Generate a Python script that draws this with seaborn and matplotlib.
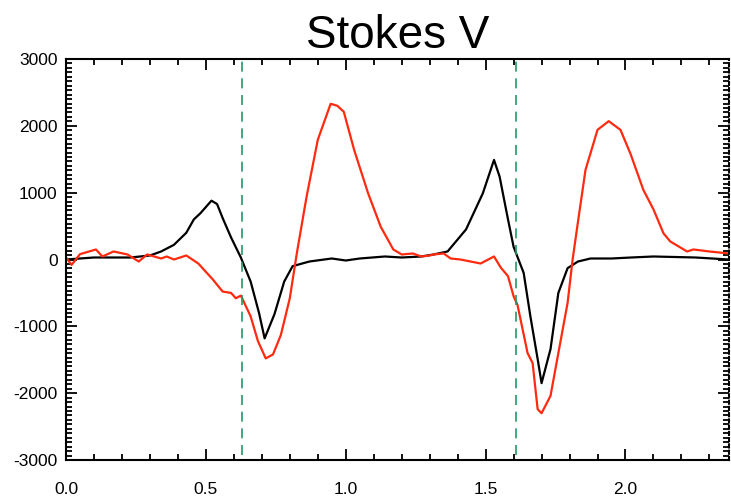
import numpy as np
import pandas as pd
import matplotlib
matplotlib.use("Agg")
import matplotlib.pyplot as plt
from matplotlib.ticker import MultipleLocator, FixedLocator
import seaborn as sns

# ---- data ----
black_x = [0.0, 0.10, 0.23, 0.30, 0.34, 0.386, 0.43, 0.457, 0.48, 0.52, 0.54, 0.56, 0.59,
           0.625, 0.66, 0.69, 0.71, 0.745, 0.78, 0.81, 0.87, 0.95, 1.0, 1.05, 1.14, 1.20,
           1.27, 1.314, 1.364, 1.43, 1.49, 1.53, 1.55, 1.58, 1.60, 1.636, 1.66, 1.686, 1.70,
           1.732, 1.76, 1.793, 1.83, 1.875, 1.95, 2.02, 2.1, 2.25, 2.37]
black_v = [0, 30, 30, 60, 120, 220, 400, 600, 690, 880, 830, 620, 330,
           30, -330, -800, -1180, -820, -330, -100, -30, 15, -15, 15, 45, 30,
           45, 75, 120, 450, 990, 1490, 1240, 600, 190, -200, -850, -1490, -1850,
           -1340, -500, -130, -30, 15, 15, 30, 45, 30, 0]

red_x = [0.0, 0.02, 0.05, 0.107, 0.13, 0.17, 0.22, 0.26, 0.29, 0.34, 0.36, 0.386, 0.43,
         0.473, 0.525, 0.56, 0.59, 0.607, 0.625, 0.66, 0.686, 0.714, 0.74, 0.768, 0.80,
         0.825, 0.86, 0.90, 0.946, 0.97, 0.993, 1.03, 1.08, 1.125, 1.17, 1.20, 1.24, 1.27,
         1.30, 1.314, 1.35, 1.375, 1.41, 1.482, 1.53, 1.554, 1.58, 1.60, 1.614, 1.625,
         1.65, 1.668, 1.686, 1.70, 1.732, 1.76, 1.793, 1.811, 1.83, 1.857, 1.90, 1.94,
         1.982, 2.018, 2.064, 2.10, 2.136, 2.16, 2.22, 2.243, 2.30, 2.37]
red_v = [30, -80, 80, 150, 45, 120, 75, -30, 75, 15, 45, 0, 60,
         -60, -300, -480, -500, -580, -540, -850, -1220, -1480, -1420, -1130, -580,
         90, 940, 1790, 2330, 2300, 2210, 1640, 990, 490, 150, 75, 90, 45,
         60, 75, 90, 15, 0, -60, 45, -120, -250, -550, -680, -900,
         -1400, -1550, -2240, -2300, -2040, -1400, -650, 0, 560, 1340, 1940, 2070,
         1940, 1580, 1040, 750, 390, 270, 120, 150, 120, 90]

vlines_x = [0.63, 1.61]
title = "Stokes V"
x_ticks = [0.0, 0.5, 1.0, 1.5, 2.0]
y_ticks = [-3000, -2000, -1000, 0, 1000, 2000, 3000]

df = pd.concat([
    pd.DataFrame({"x": black_x, "v": black_v, "s": "black"}),
    pd.DataFrame({"x": red_x, "v": red_v, "s": "red"}),
])

sns.set_style("white")
plt.rcParams["font.family"] = ["Liberation Sans", "DejaVu Sans"]
plt.rcParams["text.color"] = "black"

fig = plt.figure(figsize=(7.31, 5.01), dpi=100)
ax = fig.add_axes([66 / 731, 1 - 460 / 501, (729 - 66) / 731, (460 - 59) / 501])

sns.lineplot(data=df, x="x", y="v", hue="s", palette={"black": "black", "red": "#ff2a10"},
             linewidth=1.6, sort=False, estimator=None, legend=False, ax=ax)

for xv in vlines_x:
    ax.axvline(xv, ymin=0.012, ymax=1.0, color="#1f9a6a", linewidth=1.2,
               linestyle=(0, (6, 4)))

ax.set_xlim(0, 2.37)
ax.set_ylim(-3000, 3000)
ax.set_xlabel("")
ax.set_ylabel("")
ax.set_title(title, fontsize=33, pad=8, color="black")

ax.xaxis.set_major_locator(FixedLocator(x_ticks))
ax.xaxis.set_minor_locator(MultipleLocator(0.1))
ax.yaxis.set_major_locator(FixedLocator(y_ticks))
ax.yaxis.set_minor_locator(MultipleLocator(1000 / 15))
ax.set_xticklabels([f"{t:.1f}" for t in x_ticks])
ax.set_yticklabels([str(t) for t in y_ticks])

ax.tick_params(which="both", direction="in", top=True, right=True, bottom=True, left=True,
               colors="black", labelcolor="black", labelsize=12.5)
ax.tick_params(which="major", length=8, width=1.3)
ax.tick_params(which="minor", length=4, width=1.3)
ax.tick_params(axis="x", which="major", pad=16)
ax.tick_params(axis="y", which="major", pad=6)

for side in ["left", "bottom", "top", "right"]:
    ax.spines[side].set_visible(True)
    ax.spines[side].set_color("black")
    ax.spines[side].set_linewidth(1.5)
ax.spines["right"].set_linestyle((0, (1.5, 1.5)))

fig.savefig("out.png", dpi=100)
